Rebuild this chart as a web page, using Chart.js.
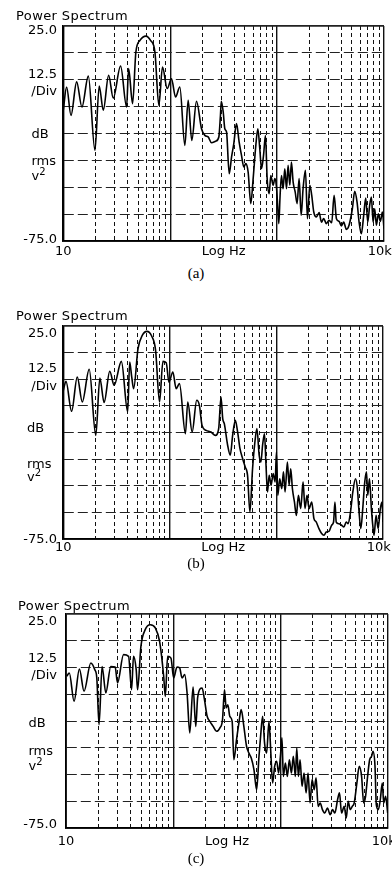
<!DOCTYPE html>
<html><head><meta charset="utf-8">
<script src="https://cdn.jsdelivr.net/npm/chart.js@4.4.0/dist/chart.umd.min.js"></script>
<style>
html,body{margin:0;padding:0;background:#fff;}
body{width:392px;height:875px;overflow:hidden;position:relative;}
.t{position:absolute;font-family:'DejaVu Sans',sans-serif;font-size:13px;color:#000;line-height:1;white-space:nowrap;transform:translateY(-50%);}
.ps{letter-spacing:0.4px;}
.cap{font-family:'Liberation Serif',serif;font-size:15px;transform:translate(-50%,-50%);}
.sup{position:relative;top:-5px;font-size:10px;}
canvas{position:absolute;left:0;}
</style></head><body>
<script>
// ---- data (log10 of frequency in Hz, level in dB) ----
const aLogHz = [1.000,1.031,1.072,1.125,1.174,1.234,1.296,1.336,1.374,1.424,
1.467,1.536,1.592,1.611,1.648,1.679,1.717,1.773,1.816,1.857,
1.894,1.928,1.972,2.012,2.050,2.090,2.137,2.168,2.202,2.246,
2.293,2.324,2.355,2.386,2.424,2.455,2.470,2.478,2.496,2.511,
2.527,2.552,2.574,2.595,2.620,2.645,2.667,2.689,2.707,2.729,
2.754,2.776,2.801,2.820,2.838,2.854,2.873,2.891,2.907,2.926,
2.941,2.963,2.979,2.994,3.007,3.016,3.028,3.041,3.056,3.072,
3.088,3.103,3.119,3.134,3.150,3.169,3.187,3.206,3.225,3.243,
3.265,3.284,3.306,3.324,3.343,3.368,3.393,3.415,3.436,3.461,
3.486,3.511,3.533,3.555,3.580,3.602,3.623,3.648,3.673,3.704,
3.726,3.748,3.767,3.788,3.810,3.829,3.848,3.866,3.882,3.898,
3.913,3.929,3.947,3.966,3.985,4.000];
const aDb = [-14.0,-3.4,-16.6,-1.0,-12.7,1.7,-32.8,-2.9,-14.2,2.1,
-8.5,6.4,-12.7,5.2,-11.1,12.9,18.3,20.3,18.3,12.9,
-11.9,5.9,-4.1,0.5,-8.0,-3.4,-30.5,-9.6,-28.2,-10.0,
-22.8,-25.9,-26.6,-29.3,-28.6,-26.6,-16.6,-10.0,-15.0,-22.8,
-24.3,-43.7,-35.9,-29.7,-20.4,-29.0,-35.2,-40.6,-39.0,-42.9,
-57.6,-46.0,-30.5,-22.8,-32.1,-41.4,-35.2,-25.9,-46.0,-53.0,
-44.5,-49.1,-46.0,-49.9,-60.0,-66.9,-53.8,-44.5,-50.7,-41.4,
-50.7,-39.8,-49.1,-38.3,-47.6,-52.2,-57.6,-46.0,-63.1,-50.7,
-42.1,-64.6,-49.1,-53.8,-61.5,-63.8,-61.8,-66.2,-64.6,-66.9,
-65.4,-66.5,-53.8,-64.6,-65.9,-68.0,-66.2,-69.6,-67.7,-60.0,
-51.9,-56.9,-66.2,-71.6,-63.1,-55.0,-66.2,-58.4,-54.5,-66.2,
-60.0,-67.7,-62.3,-65.9,-61.5,-69.3];

const bLogHz = [1.000,1.025,1.078,1.131,1.178,1.243,1.305,1.343,1.383,1.436,
1.477,1.545,1.604,1.623,1.642,1.660,1.701,1.741,1.785,1.829,
1.866,1.903,1.935,1.966,1.991,2.028,2.059,2.090,2.146,2.168,
2.209,2.252,2.277,2.302,2.340,2.386,2.427,2.458,2.480,2.496,
2.511,2.542,2.567,2.589,2.614,2.636,2.658,2.683,2.707,2.729,
2.751,2.776,2.798,2.817,2.838,2.854,2.870,2.888,2.901,2.916,
2.932,2.950,2.969,2.988,3.000,3.013,3.031,3.050,3.066,3.081,
3.103,3.119,3.134,3.150,3.169,3.187,3.206,3.228,3.250,3.268,
3.287,3.306,3.331,3.352,3.374,3.399,3.424,3.446,3.468,3.493,
3.518,3.536,3.549,3.561,3.586,3.611,3.633,3.655,3.673,3.695,
3.717,3.742,3.760,3.773,3.792,3.810,3.829,3.845,3.857,3.873,
3.891,3.904,3.916,3.935,3.954,3.975,3.991,4.000];
const bDb = [-5.2,-0.9,-15.0,1.1,-10.6,4.7,-26.3,0.6,-10.9,3.8,
-2.8,8.4,-15.3,8.1,1.1,-4.4,14.4,20.6,22.5,20.3,
13.6,-10.6,8.4,7.8,-1.3,3.4,-4.4,-2.0,-25.5,-10.6,
-24.7,-9.8,-12.2,-21.6,-23.9,-24.7,-26.3,-23.1,-8.3,-18.4,
-20.8,-30.9,-35.6,-26.3,-19.2,-24.7,-32.5,-37.2,-41.1,-45.0,
-62.2,-41.9,-29.4,-23.1,-35.6,-38.8,-30.9,-25.5,-38.8,-52.8,
-45.0,-49.7,-44.2,-48.1,-34.1,-54.4,-46.6,-51.3,-43.4,-52.8,
-38.8,-49.7,-41.9,-51.3,-57.5,-63.8,-54.4,-60.6,-48.1,-60.6,
-54.4,-60.6,-57.5,-65.3,-66.9,-70.0,-72.3,-73.1,-71.6,-71.3,
-68.4,-66.9,-57.5,-66.9,-67.7,-68.4,-69.2,-66.9,-67.7,-62.2,
-52.8,-46.6,-51.3,-60.6,-70.0,-60.6,-48.1,-43.4,-54.4,-46.6,
-60.6,-68.4,-73.1,-63.8,-70.0,-60.6,-57.5,-66.9];

const cLogHz = [1.006,1.031,1.075,1.125,1.168,1.231,1.268,1.287,1.308,1.336,
1.371,1.417,1.458,1.480,1.536,1.583,1.611,1.629,1.654,1.667,
1.698,1.738,1.785,1.832,1.872,1.910,1.925,1.947,1.978,2.003,
2.034,2.059,2.081,2.106,2.128,2.153,2.184,2.209,2.227,2.268,
2.290,2.315,2.340,2.371,2.402,2.433,2.458,2.477,2.492,2.508,
2.526,2.548,2.564,2.589,2.611,2.632,2.657,2.682,2.704,2.726,
2.751,2.776,2.798,2.813,2.832,2.850,2.869,2.891,2.907,2.925,
2.944,2.963,2.981,3.000,3.012,3.025,3.044,3.062,3.081,3.100,
3.118,3.137,3.150,3.165,3.181,3.199,3.218,3.237,3.255,3.274,
3.293,3.312,3.330,3.349,3.368,3.389,3.411,3.436,3.461,3.483,
3.505,3.530,3.548,3.567,3.592,3.611,3.629,3.648,3.667,3.685,
3.710,3.732,3.754,3.773,3.791,3.810,3.829,3.847,3.860,3.879,
3.891,3.910,3.928,3.947,3.960,3.978,3.997];
const cDb = [-4.1,-2.6,-15.8,-0.7,-11.1,2.1,-1.0,-4.9,-26.7,0.5,
-11.9,0.5,0.2,-7.2,6.0,5.2,-10.4,5.2,-1.0,-10.4,
9.9,17.7,20.0,18.5,12.2,-4.1,-13.5,5.2,4.4,-4.9,
0.2,-0.2,-4.9,-3.3,-11.9,-30.6,-9.1,-27.5,-13.8,-9.6,
-15.0,-22.8,-25.2,-27.5,-29.8,-28.3,-24.4,-10.4,-18.9,-17.4,
-22.8,-25.2,-43.1,-33.7,-25.9,-19.7,-27.5,-36.8,-40.0,-42.3,
-47.7,-57.1,-41.5,-32.2,-22.8,-35.3,-40.0,-25.2,-38.4,-54.0,
-46.2,-43.8,-49.3,-40.0,-32.9,-50.9,-44.6,-50.9,-43.1,-49.3,
-41.5,-50.9,-37.6,-50.9,-43.1,-55.5,-49.3,-58.6,-49.3,-63.3,
-52.4,-57.1,-51.6,-64.9,-63.3,-66.4,-68.0,-65.7,-68.8,-66.4,
-68.0,-61.8,-58.6,-68.0,-64.9,-70.3,-62.5,-66.4,-64.9,-63.3,
-54.0,-46.2,-50.9,-63.3,-60.2,-50.9,-43.1,-41.5,-39.2,-46.2,
-64.1,-66.4,-61.8,-54.0,-63.3,-60.2,-68.0];

// ---- axes ----
const xTickValues = [10,20,30,40,50,60,70,80,90,100,200,300,400,500,600,700,800,900,1000,2000,3000,4000,5000,6000,7000,8000,9000,10000];
const xTickLabels = {10:'10', 10000:'10k  '};
const xTitle = 'Log Hz';
const yTickValues = [25,12.5,0,-12.5,-25,-37.5,-50,-62.5,-75];
const yMin = -75, yMax = 25;
const panelTitle = 'Power Spectrum';
const captions = ['(a)','(b)','(c)'];

// ---- layout (pixel positions of each plot box in the page) ----
const panels = [
  {log:aLogHz, db:aDb, L:63.3, R:384, T:26,    B:241,   lab:10.7, cap:272.7,
   ty:{ps:15, t25:29, t12:72.7, div:90, dB:132.7, rms:160, v2:175, m75:237.7}, left:{ps:16, sm:31.5}},
  {log:bLogHz, db:bDb, L:63.3, R:383, T:326,   B:539.3, lab:8.4,  cap:563,
   ty:{ps:315, t25:331.7, t12:367.3, div:385, dB:427.3, rms:462.7, v2:476, m75:538.3}, left:{ps:16, sm:27}},
  {log:cLogHz, db:cDb, L:66,   R:388, T:614.3, B:828.3, lab:13.4, cap:858.3,
   ty:{ps:605.3, t25:620, t12:656.7, div:674.3, dB:721.7, rms:750, v2:765, m75:823.3}, left:{ps:18, sm:28.5}}
];

Chart.defaults.font.family = "'DejaVu Sans', sans-serif";
Chart.defaults.font.size = 13;
Chart.defaults.color = '#000';

function addText(html, x, y, cls, align){
  const d = document.createElement('div');
  d.className = 't' + (cls ? ' ' + cls : '');
  d.innerHTML = html;
  d.style.top = y + 'px';
  if (align === 'right') d.style.right = (392 - x) + 'px';
  else d.style.left = x + 'px';
  document.body.appendChild(d);
}
const isDecade = v => Math.abs(Math.log10(v) - Math.round(Math.log10(v))) < 1e-9;

panels.forEach((p, i) => {
  const W = 430, padTop = 12, padBottom = 4;
  const axisH = p.lab + 7.8;
  const H = Math.round(padTop + (p.B - p.T) + axisH + padBottom);
  const cv = document.createElement('canvas');
  cv.width = W; cv.height = H;
  cv.style.width = W + 'px'; cv.style.height = H + 'px';
  cv.style.top = (p.T - padTop) + 'px';
  document.body.appendChild(cv);

  const pts = p.log.map((lv, k) => ({x: Math.pow(10, lv), y: p.db[k]}));

  new Chart(cv, {
    type: 'line',
    data: {datasets: [{data: pts, borderColor: '#000', borderWidth: 1.6, pointRadius: 0,
      cubicInterpolationMode: 'monotone', fill: false}]},
    options: {
      responsive: false, animation: false, events: [],
      layout: {padding: {top: padTop, left: 0, right: W - p.R, bottom: padBottom + (H - (padTop + (p.B - p.T) + axisH + padBottom))}},
      plugins: {legend: {display: false}, tooltip: {enabled: false}},
      scales: {
        x: {
          type: 'logarithmic', min: 10, max: 10000,
          afterBuildTicks: s => { s.ticks = xTickValues.map(v => ({value: v})); },
          afterFit: s => { s.height = axisH; },
          ticks: {autoSkip: false, maxRotation: 0, minRotation: 0, padding: p.lab - 7.8,
            callback: v => xTickLabels[v] || '', color: '#000'},
          grid: {drawTicks: false, color: '#111',
            lineWidth: c => (c.tick && isDecade(c.tick.value)) ? 1.4 : 1},
          border: {display: true, color: '#000', width: 1.8,
            dash: c => (c.tick && !isDecade(c.tick.value)) ? [4, 3] : []},
          title: {display: true, text: xTitle, padding: 0, color: '#000'}
        },
        y: {
          min: yMin, max: yMax,
          afterBuildTicks: s => { s.ticks = yTickValues.map(v => ({value: v})); },
          afterFit: s => { s.width = p.L; },
          ticks: {display: false},
          grid: {drawTicks: false, color: '#222',
            lineWidth: c => (c.tick && (c.tick.value === yMax || c.tick.value === yMin)) ? 1.8 : 1},
          border: {display: true, color: '#000', width: 1.8,
            dash: c => (c.tick && c.tick.value !== yMax && c.tick.value !== yMin) ? [10, 4] : []}
        }
      }
    }
  });

  addText(panelTitle, p.left.ps, p.ty.ps, 'ps');
  addText('25.0', 57, p.ty.t25, '', 'right');
  addText('12.5', 57, p.ty.t12, '', 'right');
  addText('/Div', 57, p.ty.div, '', 'right');
  addText('dB', p.left.sm, p.ty.dB);
  addText('rms', p.left.sm, p.ty.rms);
  addText('v<span class="sup">2</span>', p.left.sm, p.ty.v2);
  addText('-75.0', 57, p.ty.m75, '', 'right');
  addText(captions[i], 196, p.cap, 'cap');
});
</script>
</body></html>
